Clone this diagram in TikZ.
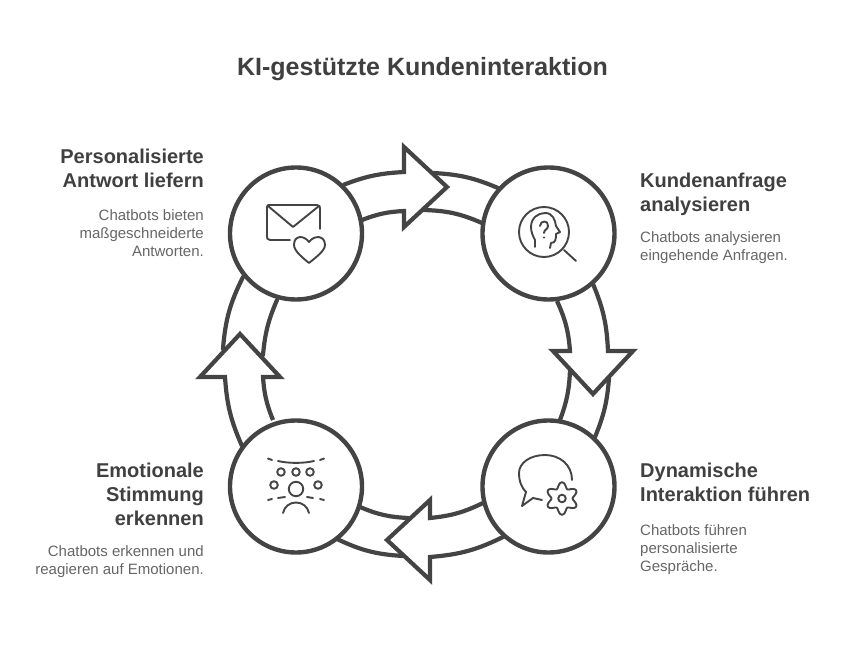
\documentclass[tikz,border=0pt]{standalone}
\usepackage{fontspec}
\setmainfont{Liberation Sans}
\definecolor{ink}{HTML}{444444}
\definecolor{head}{HTML}{404040}
\definecolor{body}{HTML}{666666}
\tikzset{
  hub/.style={circle,draw=ink,fill=white,line width=4.4pt,minimum size=132pt,inner sep=0pt},
  band/.style={draw=ink,line width=4.2pt,line join=miter,line cap=round},
  arrowshape/.style={draw=ink,fill=white,line width=4.2pt,line join=miter},
  icon/.style={draw=ink,line width=1.9pt,line cap=round,line join=round},
  titletext/.style={font=\fontsize{25}{29}\selectfont\bfseries,text=head,inner sep=0pt},
  headr/.style={font=\fontsize{20}{24}\selectfont\bfseries,text=head,inner sep=0pt,align=right,anchor=north east},
  headl/.style={font=\fontsize{20}{24}\selectfont\bfseries,text=head,inner sep=0pt,align=left,anchor=north west},
  bodyr/.style={font=\fontsize{15}{18}\selectfont,text=body,inner sep=0pt,align=right,anchor=north east},
  bodyl/.style={font=\fontsize{15}{18}\selectfont,text=body,inner sep=0pt,align=left,anchor=north west},
}
\begin{document}
\begin{tikzpicture}[x=1pt,y=-1pt]
\useasboundingbox (0,0) rectangle (844,655);
\fill[white] (0,0) rectangle (844,655);

\node[titletext,anchor=base] (title) at (422.5,76) {KI-gestützte Kundeninteraktion};

% tails behind the arrow heads
\draw[band] (433,173) to[bend left=10] (498,188);
\draw[band] (423,210) to[bend left=11] (482,223);
\draw[band] (609,378) to[bend left=9] (595,437);
\draw[band] (570,370) to[bend left=9] (560,420);
\draw[band] (408,518) to[bend right=-10] (360,507);
\draw[band] (403,556) to[bend left=11] (337,539);
\draw[band] (223,349) to[bend left=11] (243,277);
\draw[band] (263,355) to[bend left=9] (277,300);

% arrows
\path[arrowshape] (343,185) to[bend left=9] (404,172) -- (404,147) -- (447,187) -- (404,227) -- (404,211) to[bend right=9] (362,220);
\path[arrowshape] (593,284) to[bend left=10] (608,351) -- (633,351) -- (593,394) -- (553,351) -- (570,351) to[bend right=10] (557,301);
\path[arrowshape] (505,536) to[bend left=11] (430,557) -- (430,580) -- (387,540) -- (430,500) -- (430,518) to[bend right=10] (483,503);
\path[arrowshape] (242,446) to[bend left=10] (225,377) -- (200,377) -- (240,334) -- (280,377) -- (263,377) to[bend right=9] (273,420);

% hubs
\node[hub] (hubA) at (296,233.5) {};
\node[hub] (hubB) at (548.5,233.5) {};
\node[hub] (hubC) at (548.5,486.5) {};
\node[hub] (hubD) at (296,486.5) {};

% mail icon
\draw[icon] (290,240) -- (270,240) .. controls (267,240) and (267,238) .. (267,236) -- (267,207) .. controls (267,205) and (268,205) .. (270,205) -- (317,205) .. controls (320,205) and (320,207) .. (320,209) -- (320,229);
\draw[icon] (268,206) -- (293,227) -- (319,206);
\draw[icon] (309,242) .. controls (304,235) and (294,235) .. (294,245) .. controls (294,251) and (303,258) .. (309,263) .. controls (315,258) and (325,251) .. (325,245) .. controls (325,235) and (314,235) .. (309,242) -- cycle;

% head icon
\draw[icon] (544,232) circle (25pt);
\draw[icon] (564,250) -- (576,261);
\draw[icon] (535,247) -- (535,240) .. controls (533,236) and (531,232) .. (531,227) .. controls (531,218) and (538,213) .. (545,213) .. controls (553,213) and (555,220) .. (556,226) -- (560,232) -- (556,234) .. controls (556,238) and (556,243) .. (551,243) -- (550,248);
\draw[icon] (540,226) .. controls (540,220) and (549,220) .. (548,226) .. controls (548,230) and (544,229) .. (544,233);
\fill[ink] (544,237.5) circle (1.2pt);

% chat and gear icon
\draw[icon] (572,480) .. controls (572,465) and (560,455) .. (545,455) .. controls (530,455) and (519,463) .. (519,473) .. controls (519,482) and (522,488) .. (526,492) -- (522,506) -- (533,498) -- (542,500);
\draw[icon] plot[smooth,samples=61,domain=0:360,variable=\t] ({562+(13.4+2.9*cos(6*\t))*cos(\t+90)},{498.5+(13.4+2.9*cos(6*\t))*sin(\t+90)});
\draw[icon] (562,498.5) circle (3.8pt);

% emotions icon
\draw[icon] (278,461) .. controls (288,463.5) and (304,463.5) .. (314,461);
\draw[icon] (268,458.5) -- (272,460);
\draw[icon] (320,460) -- (324,458.5);
\foreach \px/\py in {281/472,296/472,310/472,274/485,318/485}{\draw[icon] (\px,\py) circle (3.8pt);}
\draw[icon] (296,489) circle (7.2pt);
\draw[icon] (268,500) -- (272,499);
\draw[icon] (278,498) -- (285,497);
\draw[icon] (307,497) -- (313,498);
\draw[icon] (320,499) -- (324,500);
\draw[icon] (283,513) .. controls (286,499) and (306,499) .. (309,513);

% labels
\node[headr] (hA) at (204,148.5) {Personalisierte\\Antwort liefern};
\node[bodyr] (bA) at (204,209.5) {Chatbots bieten\\maßgeschneiderte\\Antworten.};
\node[headl] (hB) at (640,172.5) {Kundenanfrage\\analysieren};
\node[bodyl] (bB) at (640,231.5) {Chatbots analysieren\\eingehende Anfragen.};
\node[headl] (hC) at (640,462.5) {Dynamische\\Interaktion führen};
\node[bodyl] (bC) at (640,524.5) {Chatbots führen\\personalisierte\\Gespräche.};
\node[headr] (hD) at (204,462.5) {Emotionale\\Stimmung\\erkennen};
\node[bodyr] (bD) at (204,545.5) {Chatbots erkennen und\\reagieren auf Emotionen.};
\end{tikzpicture}
\end{document}
